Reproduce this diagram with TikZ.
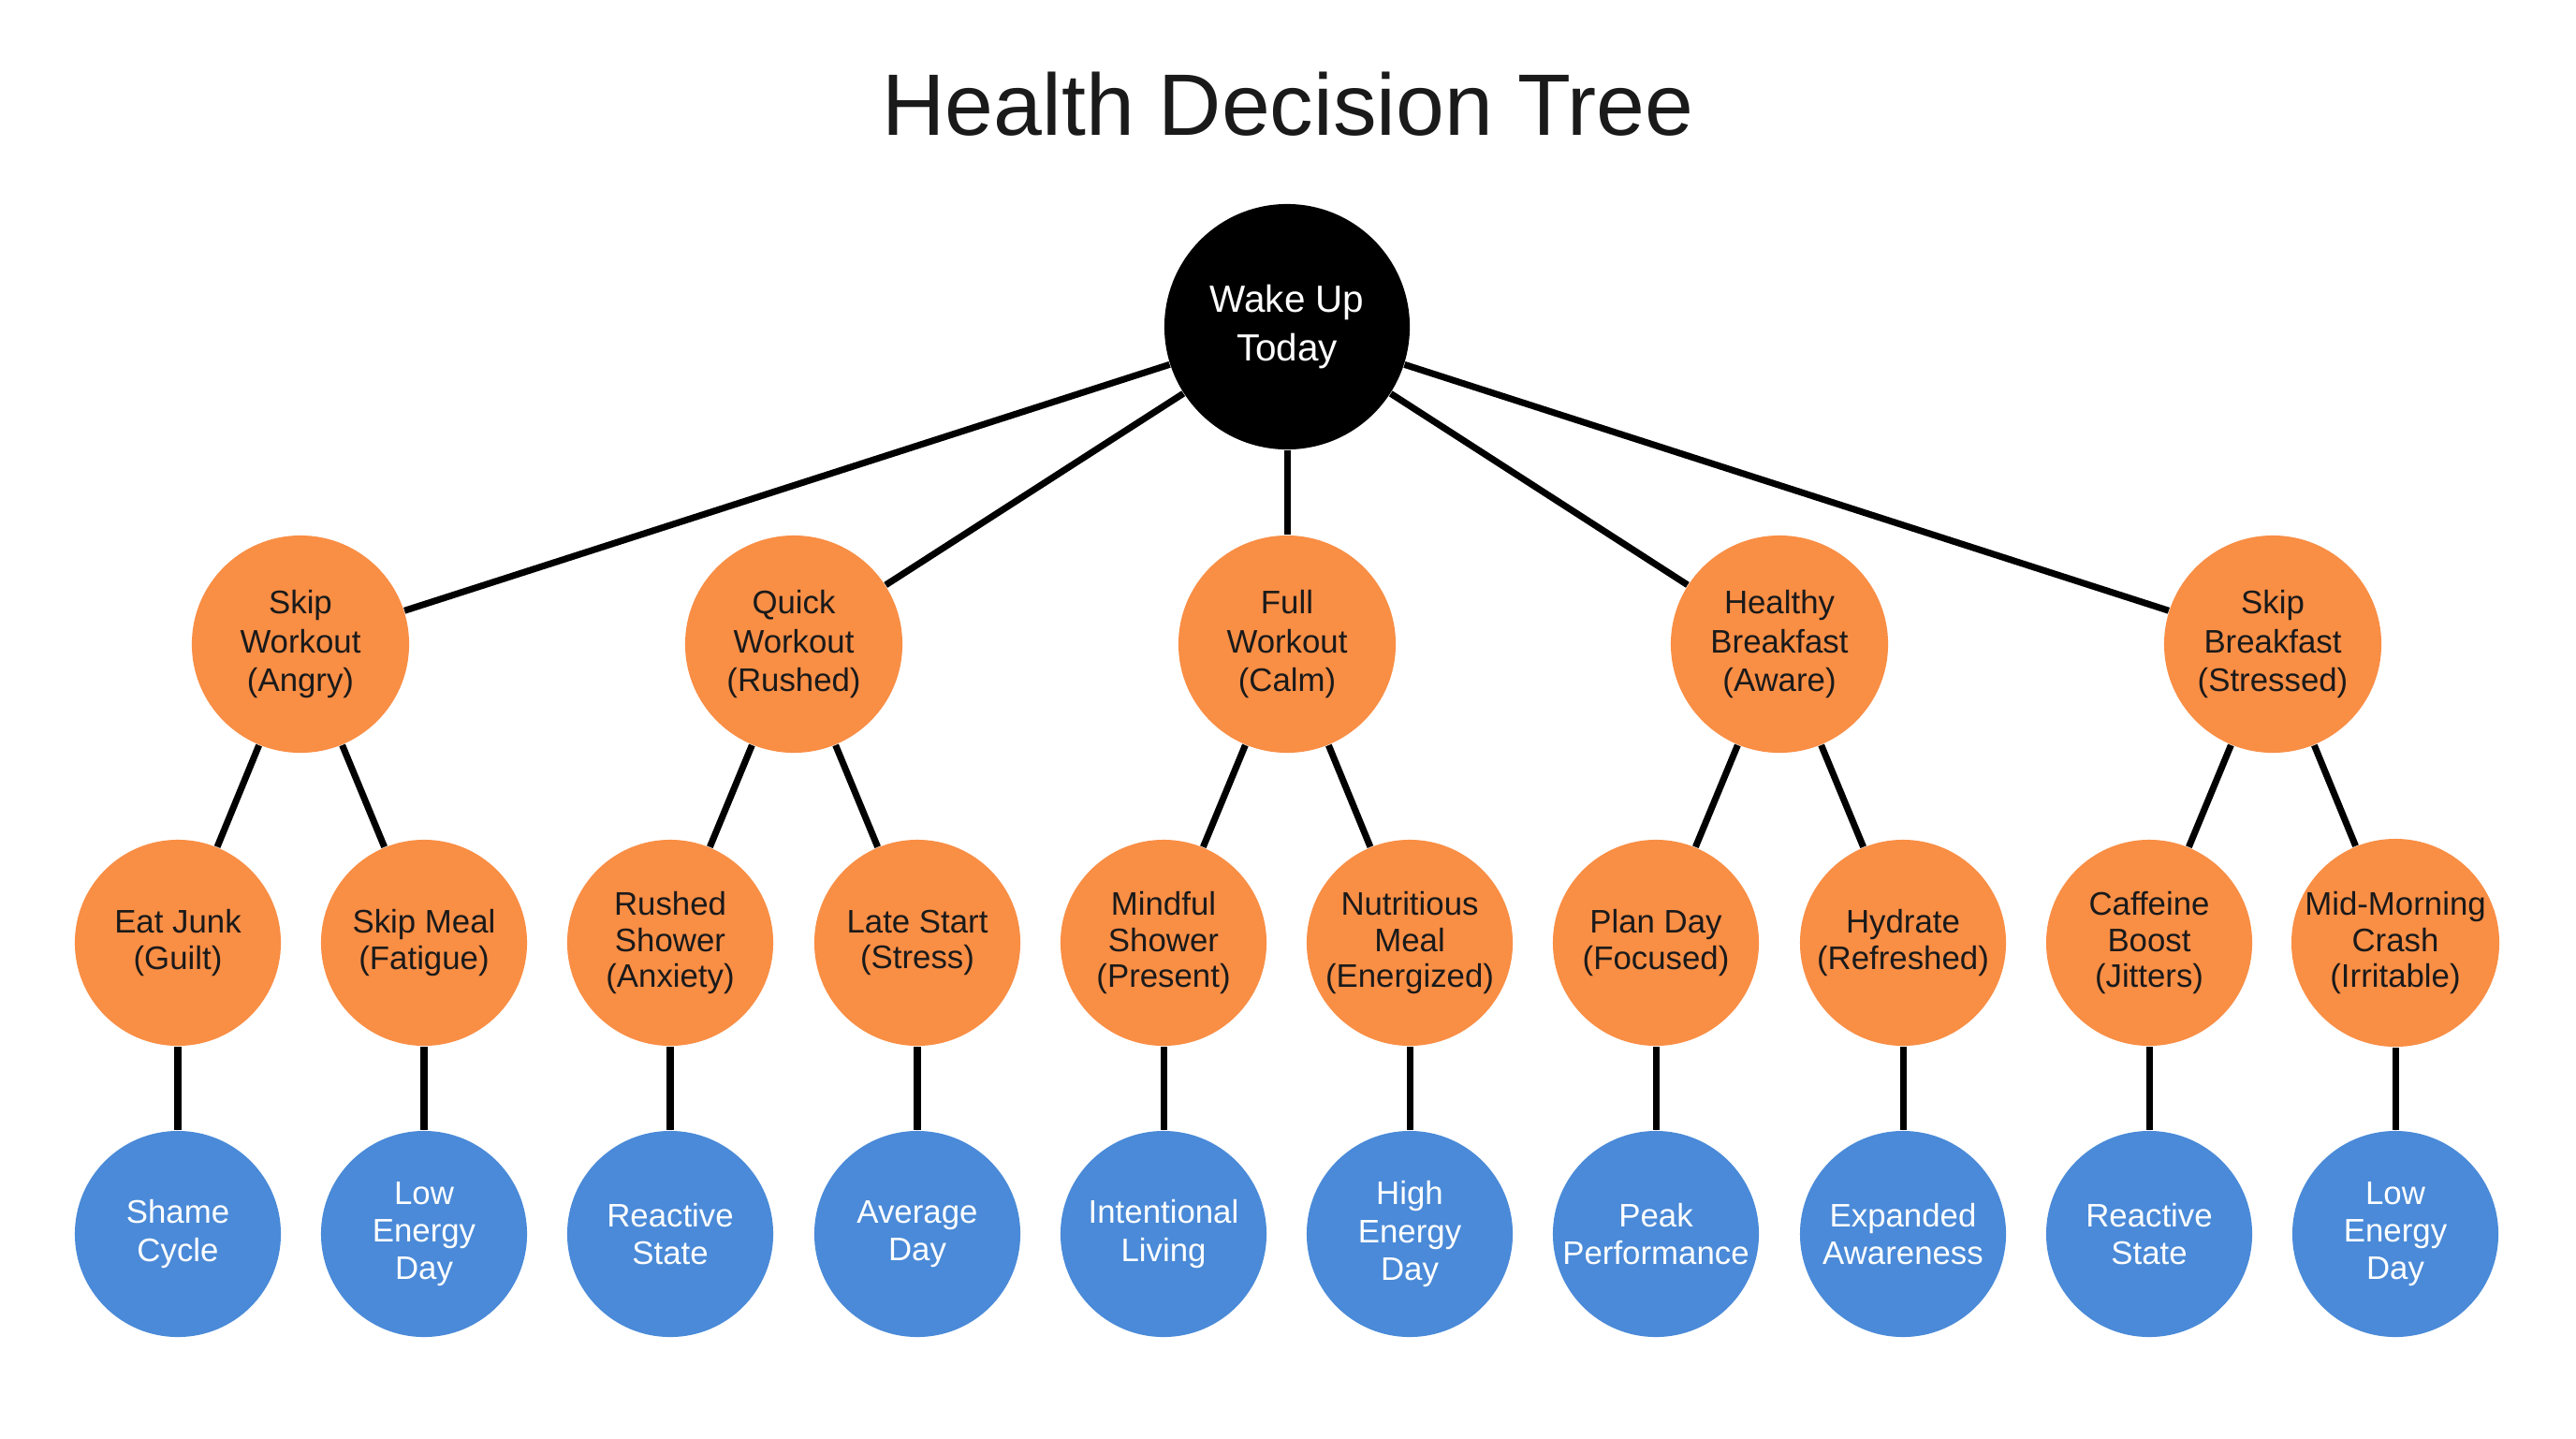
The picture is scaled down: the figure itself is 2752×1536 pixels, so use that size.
\documentclass[tikz,border=0pt]{standalone}
\usepackage{fontspec}
\setmainfont{Liberation Sans}
\definecolor{orng}{HTML}{F98E45}
\definecolor{blu}{HTML}{4A8AD8}
\definecolor{ink}{HTML}{1A1A1A}
\begin{document}
\begin{tikzpicture}[x=0.01cm,y=-0.01cm,
  rootnode/.style={circle,fill=black,text=white,minimum size=2.62cm,inner sep=0pt,align=center,
    font=\fontsize{11.5pt}{15pt}\selectfont},
  choice/.style={circle,fill=orng,text=ink,minimum size=2.32cm,inner sep=0pt,align=center,
    font=\fontsize{9.9pt}{11.8pt}\selectfont},
  action/.style={circle,fill=orng,text=ink,minimum size=2.2cm,inner sep=0pt,align=center,
    font=\fontsize{9.9pt}{10.9pt}\selectfont},
  outcome/.style={circle,fill=blu,text=white,minimum size=2.2cm,inner sep=0pt,align=center,
    font=\fontsize{9.9pt}{11.4pt}\selectfont},
  link/.style={line width=2pt,draw=black}]
\useasboundingbox (0,0) rectangle (2752,1536);
\fill[white] (0,0) rectangle (2752,1536);
\node[anchor=base,font=\fontsize{26.5pt}{30pt}\selectfont,text=ink] (title) at (1376,144) {Health Decision Tree};
% root
\node[rootnode] (root) at (1375,349) {Wake Up\\Today};
% level 1
\node[choice] (c1) at (321,688) {Skip\\Workout\\(Angry)};
\node[choice] (c2) at (848,688) {Quick\\Workout\\(Rushed)};
\node[choice] (c3) at (1375,688) {Full\\Workout\\(Calm)};
\node[choice] (c4) at (1901,688) {Healthy\\Breakfast\\(Aware)};
\node[choice] (c5) at (2428,688) {Skip\\Breakfast\\(Stressed)};
% level 2
\node[action] (a1) at (190,1007) {Eat Junk\\(Guilt)};
\node[action] (a2) at (453,1007) {Skip Meal\\(Fatigue)};
\node[action] (a3) at (716,1007) {Rushed\\Shower\\(Anxiety)};
\node[action] (a4) at (980,1007) {Late Start\\(Stress)};
\node[action] (a5) at (1243,1007) {Mindful\\Shower\\(Present)};
\node[action] (a6) at (1506,1007) {Nutritious\\Meal\\(Energized)};
\node[action] (a7) at (1769,1007) {Plan Day\\(Focused)};
\node[action] (a8) at (2033,1007) {Hydrate\\(Refreshed)};
\node[action] (a9) at (2296,1007) {Caffeine\\Boost\\(Jitters)};
\node[action] (a10) at (2559,1007) {Mid-Morning\\Crash\\(Irritable)};
% level 3
\node[outcome] (o1) at (190,1318) {Shame\\Cycle};
\node[outcome] (o2) at (453,1318) {Low\\Energy\\Day};
\node[outcome] (o3) at (716,1318) {Reactive\\State};
\node[outcome] (o4) at (980,1318) {Average\\Day};
\node[outcome] (o5) at (1243,1318) {Intentional\\Living};
\node[outcome] (o6) at (1506,1318) {High\\Energy\\Day};
\node[outcome] (o7) at (1769,1318) {Peak\\Performance};
\node[outcome] (o8) at (2033,1318) {Expanded\\Awareness};
\node[outcome] (o9) at (2296,1318) {Reactive\\State};
\node[outcome] (o10) at (2559,1318) {Low\\Energy\\Day};
% connectors
\foreach \c in {c1,c2,c3,c4,c5} \draw[link] (root) -- (\c);
\draw[link] (c1) -- (a1); \draw[link] (c1) -- (a2);
\draw[link] (c2) -- (a3); \draw[link] (c2) -- (a4);
\draw[link] (c3) -- (a5); \draw[link] (c3) -- (a6);
\draw[link] (c4) -- (a7); \draw[link] (c4) -- (a8);
\draw[link] (c5) -- (a9); \draw[link] (c5) -- (a10);
\foreach \i in {1,...,10} \draw[link] (a\i) -- (o\i);
\end{tikzpicture}
\end{document}
